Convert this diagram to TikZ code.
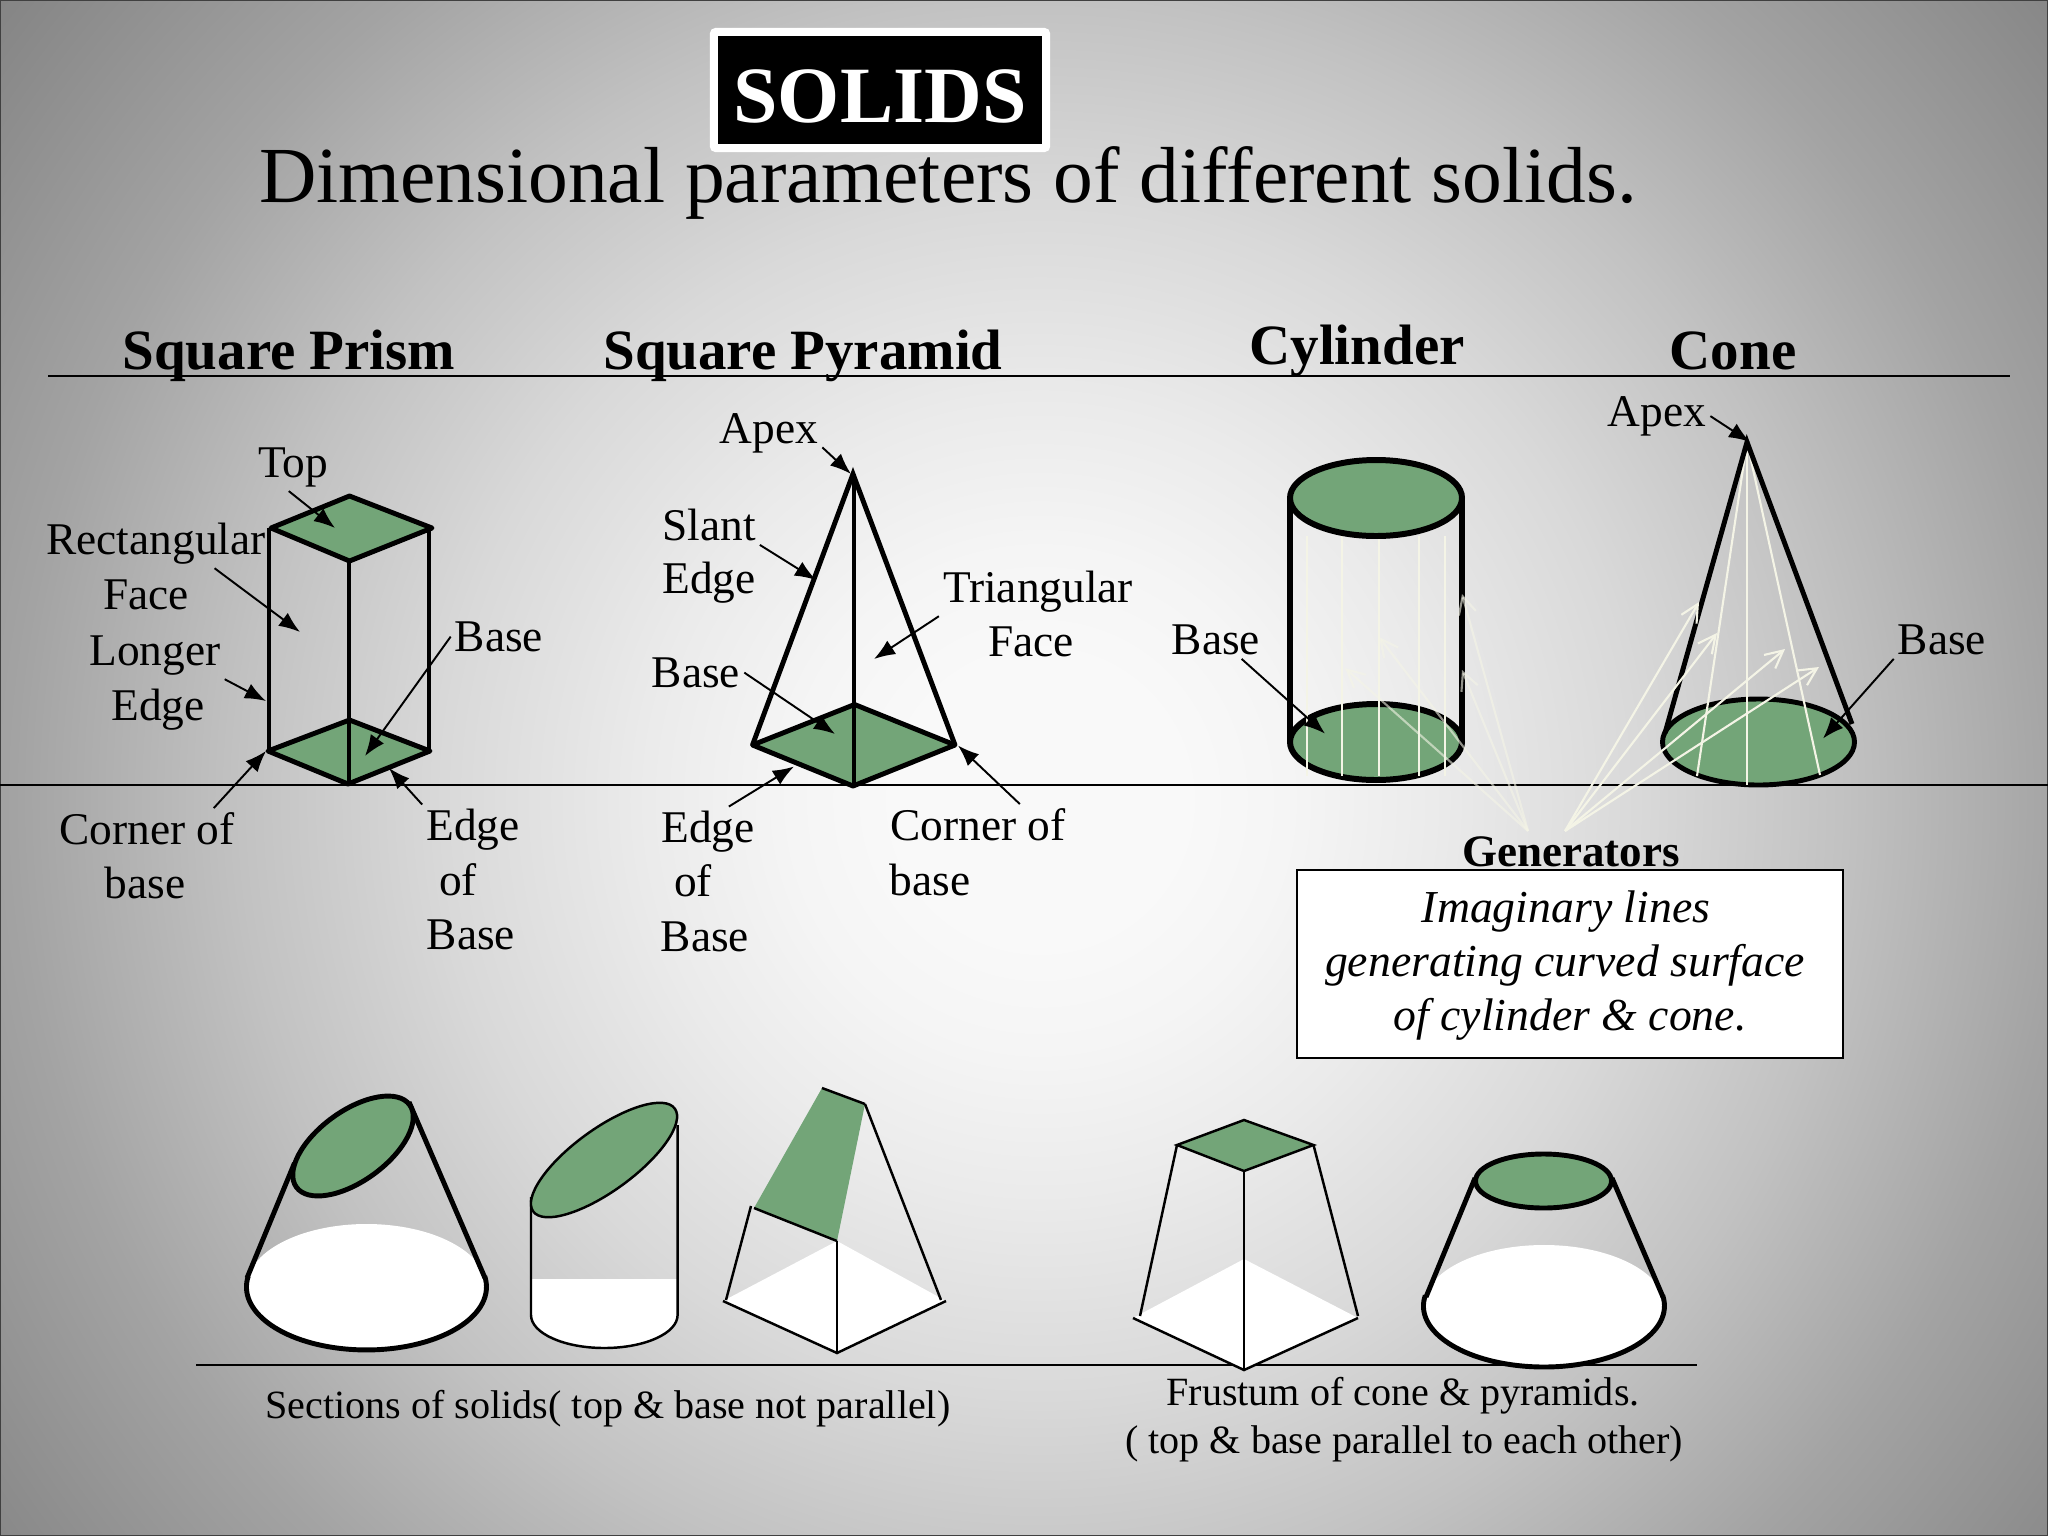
\documentclass[tikz,border=0pt]{standalone}
\usepackage{fontspec}
\setmainfont{Liberation Serif}
\usetikzlibrary{arrows.meta}
\definecolor{facegreen}{RGB}{115,165,120}
\definecolor{rayivory}{RGB}{244,244,230}
\pgfdeclareradialshading{slidebg}{\pgfpoint{0bp}{0bp}}{%
  gray(0bp)=(0.975);gray(2.7bp)=(0.975);gray(4.5bp)=(0.96);gray(7.1bp)=(0.92);gray(10.7bp)=(0.85);gray(14.3bp)=(0.76);gray(18.3bp)=(0.64);gray(23.2bp)=(0.525);gray(25bp)=(0.5);gray(50bp)=(0.5)}
\tikzset{
  lbl/.style={anchor=base,inner sep=1pt,yshift=-0.35pt,font=\fontsize{12.9}{15}\selectfont},
  heading/.style={anchor=base,inner sep=1pt,yshift=-0.35pt,font=\fontsize{16.2}{19}\selectfont\bfseries},
  capt/.style={anchor=base,inner sep=1pt,yshift=-0.35pt,font=\fontsize{11.4}{14}\selectfont},
  note/.style={anchor=base,inner sep=1pt,font=\fontsize{13}{16}\selectfont\itshape},
  pointer/.style={-{Latex[length=6pt,width=4.6pt]},line width=0.55pt},
  ray/.style={rayivory,line width=0.6pt},
  rayarrow/.style={ray,-{Straight Barb[length=5pt,width=5pt]}},
  bold/.style={line width=1.7pt},
  heavy/.style={line width=1.4pt},
  medium/.style={line width=1pt},
  slim/.style={line width=0.7pt},
  rule/.style={line width=0.6pt},
  face/.style={fill=facegreen}
}
\begin{document}
\begin{tikzpicture}[x=0.01cm,y=-0.01cm]
\useasboundingbox (0,0) rectangle (2048,1536);
\begin{scope}
\clip (0,0) rectangle (2048,1536);
\shade[shading=slidebg] (1040,800) circle (1400);
\end{scope}
\draw[line width=0.8pt,black!75] (0,0) rectangle (2048,1536);

% title
\node[fill=white,rounded corners=1.5pt,minimum width=3.4cm,minimum height=1.24cm] (titlebox) at (880,90) {};
\node[fill=black,minimum width=3.24cm,minimum height=1.07cm] (titleblack) at (880,90) {};
\node[anchor=base,text=white,inner sep=1pt,font=\fontsize{22.7}{26}\selectfont\bfseries] (solids) at (880,122) {SOLIDS};
\node[anchor=base,inner sep=1pt,font=\fontsize{22.6}{26}\selectfont] (subtitle) at (948,202) {Dimensional parameters of different solids.};

% headings and rules
\node[heading] (hPrism) at (289,368) {Square Prism};
\node[heading] (hPyramid) at (803,368) {Square Pyramid};
\node[heading] (hCylinder) at (1357,363) {Cylinder};
\node[heading] (hCone) at (1733,368) {Cone};
\coordinate (ruleTopL) at (48,376);
\coordinate (ruleTopR) at (2010,376);
\draw[rule] (ruleTopL) -- (ruleTopR);
\coordinate (ruleMidL) at (0,785);
\coordinate (ruleMidR) at (2048,785);
\draw[rule] (ruleMidL) -- (ruleMidR);
\coordinate (ruleLowL) at (196,1365);
\coordinate (ruleLowR) at (1697,1365);
\draw[rule] (ruleLowL) -- (ruleLowR);

% square prism
\draw[heavy,face,line join=round] (271,528) -- (349.5,496) -- (432,528) -- (349.5,561) -- cycle;
\draw[heavy,face,line join=round] (268,751) -- (349.5,720) -- (430,751) -- (348,784) -- cycle;
\draw[medium] (269,528) -- (269,751);
\draw[medium] (349,561) -- (349,784);
\draw[medium] (429,528) -- (429,751);

% square pyramid
\draw[heavy,face,line join=round] (752.5,745) -- (854.6,704.5) -- (955,745) -- (853,786) -- cycle;
\draw[heavy] (752.5,745) -- (853,474) -- (955,745);
\draw[medium] (854,474) -- (854,786);

% cylinder
\draw[bold,face] (1376,742) ellipse [x radius=86,y radius=38];
\foreach \genx in {1307,1342,1379,1419,1445} {
  \draw[ray] (\genx,536) -- (\genx,776);
}
\draw[bold] (1290,498) -- (1290,742);
\draw[bold] (1462,498) -- (1462,742);
\draw[bold,face] (1376,498) ellipse [x radius=86,y radius=38];

% cone
\draw[heavy,face] (1758.5,742) ellipse [x radius=96,y radius=43];
\foreach \genx/\geny in {1697/776,1747/785,1820/775} {
  \draw[ray] (1747,442) -- (\genx,\geny);
}
\draw[heavy] (1665,733) -- (1747,442) -- (1852,724);

% generator arrows
\coordinate (genCyl) at (1528,831);
\coordinate (genCon) at (1565,831);
\foreach \tipx/\tipy in {1345/668,1379/637,1462/594,1462/670} {
  \draw[rayarrow,opacity=0.6] (genCyl) -- (\tipx,\tipy);
}
\foreach \tipx/\tipy in {1699/602,1717/633,1785/649,1819/667} {
  \draw[rayarrow] (genCon) -- (\tipx,\tipy);
}

% labels, prism
\node[lbl] (lTop) at (293,476) {Top};
\node[lbl] (lRect) at (156,553) {Rectangular};
\node[lbl] (lFace) at (146,608) {Face};
\node[lbl] (lLonger) at (155,664) {Longer};
\node[lbl] (lEdge) at (158,719) {Edge};
\node[lbl] (lBase) at (499,650) {Base};
\node[lbl] (lCorner) at (147,843) {Corner of};
\node[lbl] (lCornerB) at (145,897) {base};
\node[lbl] (lEdgeOf) at (473,839) {Edge};
\node[lbl] (lEdgeOfB) at (458,894) {of};
\node[lbl] (lEdgeOfC) at (471,948) {Base};
\coordinate (tTop) at (335,528);
\coordinate (tRect) at (300,632);
\coordinate (tLonger) at (266,701);
\coordinate (tBase) at (365,756);
\coordinate (tCorner) at (266,751);
\coordinate (tEdgeOf) at (389,768);
\draw[pointer] (lTop.-100) -- (tTop);
\draw[pointer] (lRect.-23) -- (tRect);
\draw[pointer] (lLonger.south east) -- (tLonger);
\draw[pointer] (lBase.west) -- (tBase);
\draw[pointer] (lCorner.17) -- (tCorner);
\draw[pointer] (lEdgeOf.north west) -- (tEdgeOf);

% labels, pyramid
\node[lbl] (pApex) at (769,442) {Apex};
\node[lbl] (pSlant) at (709,539) {Slant};
\node[lbl] (pSlantB) at (709,592) {Edge};
\node[lbl] (pTri) at (1038,601) {Triangular};
\node[lbl] (pTriB) at (1031,655) {Face};
\node[lbl] (pBase) at (696,686) {Base};
\node[lbl] (pEdge) at (708,841) {Edge};
\node[lbl] (pEdgeB) at (693,895) {of};
\node[lbl] (pEdgeC) at (705,950) {Base};
\node[lbl] (pCorner) at (978,839) {Corner of};
\node[lbl] (pCornerB) at (930,894) {base};
\coordinate (qApex) at (851,474);
\coordinate (qSlant) at (816,580);
\coordinate (qTri) at (874,659);
\coordinate (qBase) at (835,734);
\coordinate (qEdge) at (794,766.5);
\coordinate (qCorner) at (958,745.5);
\draw[pointer] (pApex.-15) -- (qApex);
\draw[pointer] (pSlant.south east) -- (qSlant);
\draw[pointer] (pTri.south west) -- (qTri);
\draw[pointer] (pBase.east) -- (qBase);
\draw[pointer] (pEdge.50) -- (qEdge);
\draw[pointer] (pCorner.26) -- (qCorner);

% labels, cylinder and cone
\node[lbl] (cBase) at (1216,653) {Base};
\node[lbl] (kApex) at (1657,425) {Apex};
\node[lbl] (kBase) at (1942,653) {Base};
\coordinate (dBase) at (1325,733.6);
\coordinate (mApex) at (1750,442);
\coordinate (mBase) at (1823,738.5);
\draw[pointer] (cBase.-37) -- (dBase);
\draw[pointer] (kApex.east) -- (mApex);
\draw[pointer] (kBase.south west) -- (mBase);

% generators note
\node[draw,fill=white,line width=0.45pt,minimum width=5.46cm,minimum height=1.88cm] (noteBox) at (1570,964) {};
\node[anchor=base,inner sep=1pt,font=\fontsize{12.8}{15}\selectfont\bfseries] (gen) at (1571,866) {Generators};
\node[note] (noteA) at (1566,922) {Imaginary lines};
\node[note] (noteB) at (1565,976) {generating curved surface};
\node[note] (noteC) at (1570,1030) {of cylinder \& cone.};

% sections: cone
\fill[white] (366.5,1287) ellipse [x radius=120,y radius=63];
\draw[heavy] (247,1278) -- (294.5,1163);
\draw[heavy] (485,1278) -- (409,1102);
\draw[heavy] (248.3,1276) arc [start angle=190,end angle=-10,x radius=120,y radius=63];
\draw[heavy,face] (353,1146) ellipse [x radius=70,y radius=35,rotate=36];

% sections: cylinder
\fill[white] (531,1279) rectangle (678,1315);
\fill[white] (604.5,1315) ellipse [x radius=73.5,y radius=33];
\draw[slim] (531,1197) -- (531,1315) arc [start angle=180,end angle=0,x radius=73.3,y radius=33] -- (677.6,1125);
\draw[slim,face] (604,1160) ellipse [x radius=87.5,y radius=31,rotate=36];

% sections: pyramid
\fill[white] (723,1301) -- (837,1241) -- (946,1301) -- (837,1353) -- cycle;
\fill[facegreen] (822,1088) -- (865,1104) -- (837,1241) -- (754,1208) -- cycle;
\draw[slim] (822,1088) -- (865,1104);
\draw[slim] (754,1208) -- (837,1241);
\draw[slim] (751,1206) -- (726,1300);
\draw[slim] (865,1104) -- (941,1300);
\draw[slim] (723,1301) -- (837,1353) -- (946,1301);
\draw[slim] (837,1241) -- (837,1353);

% frustum: pyramid
\fill[white] (1133,1318) -- (1244,1259) -- (1358,1318) -- (1244,1370) -- cycle;
\draw[slim,face] (1177,1145) -- (1244,1120) -- (1313.5,1145) -- (1244,1171) -- cycle;
\draw[slim] (1177,1145) -- (1140,1316);
\draw[slim] (1313.5,1145) -- (1358,1316);
\draw[slim] (1244,1171) -- (1244,1370);
\draw[slim] (1133,1318) -- (1244,1370) -- (1358,1318);

% frustum: cone
\fill[white] (1544,1306) ellipse [x radius=120.5,y radius=61];
\draw[heavy] (1475,1178) -- (1426,1297);
\draw[heavy] (1612,1178) -- (1663,1297);
\draw[heavy] (1425.3,1295.4) arc [start angle=190,end angle=-10,x radius=120.5,y radius=61];
\draw[heavy,face] (1543.5,1181) ellipse [x radius=68,y radius=27];

% captions
\node[capt] (capSect) at (608,1417) {Sections of solids( top \& base not parallel)};
\node[capt] (capFrusA) at (1403,1404) {Frustum of cone \& pyramids.};
\node[capt] (capFrusB) at (1404,1452) {( top \& base parallel to each other)};
\end{tikzpicture}
\end{document}
